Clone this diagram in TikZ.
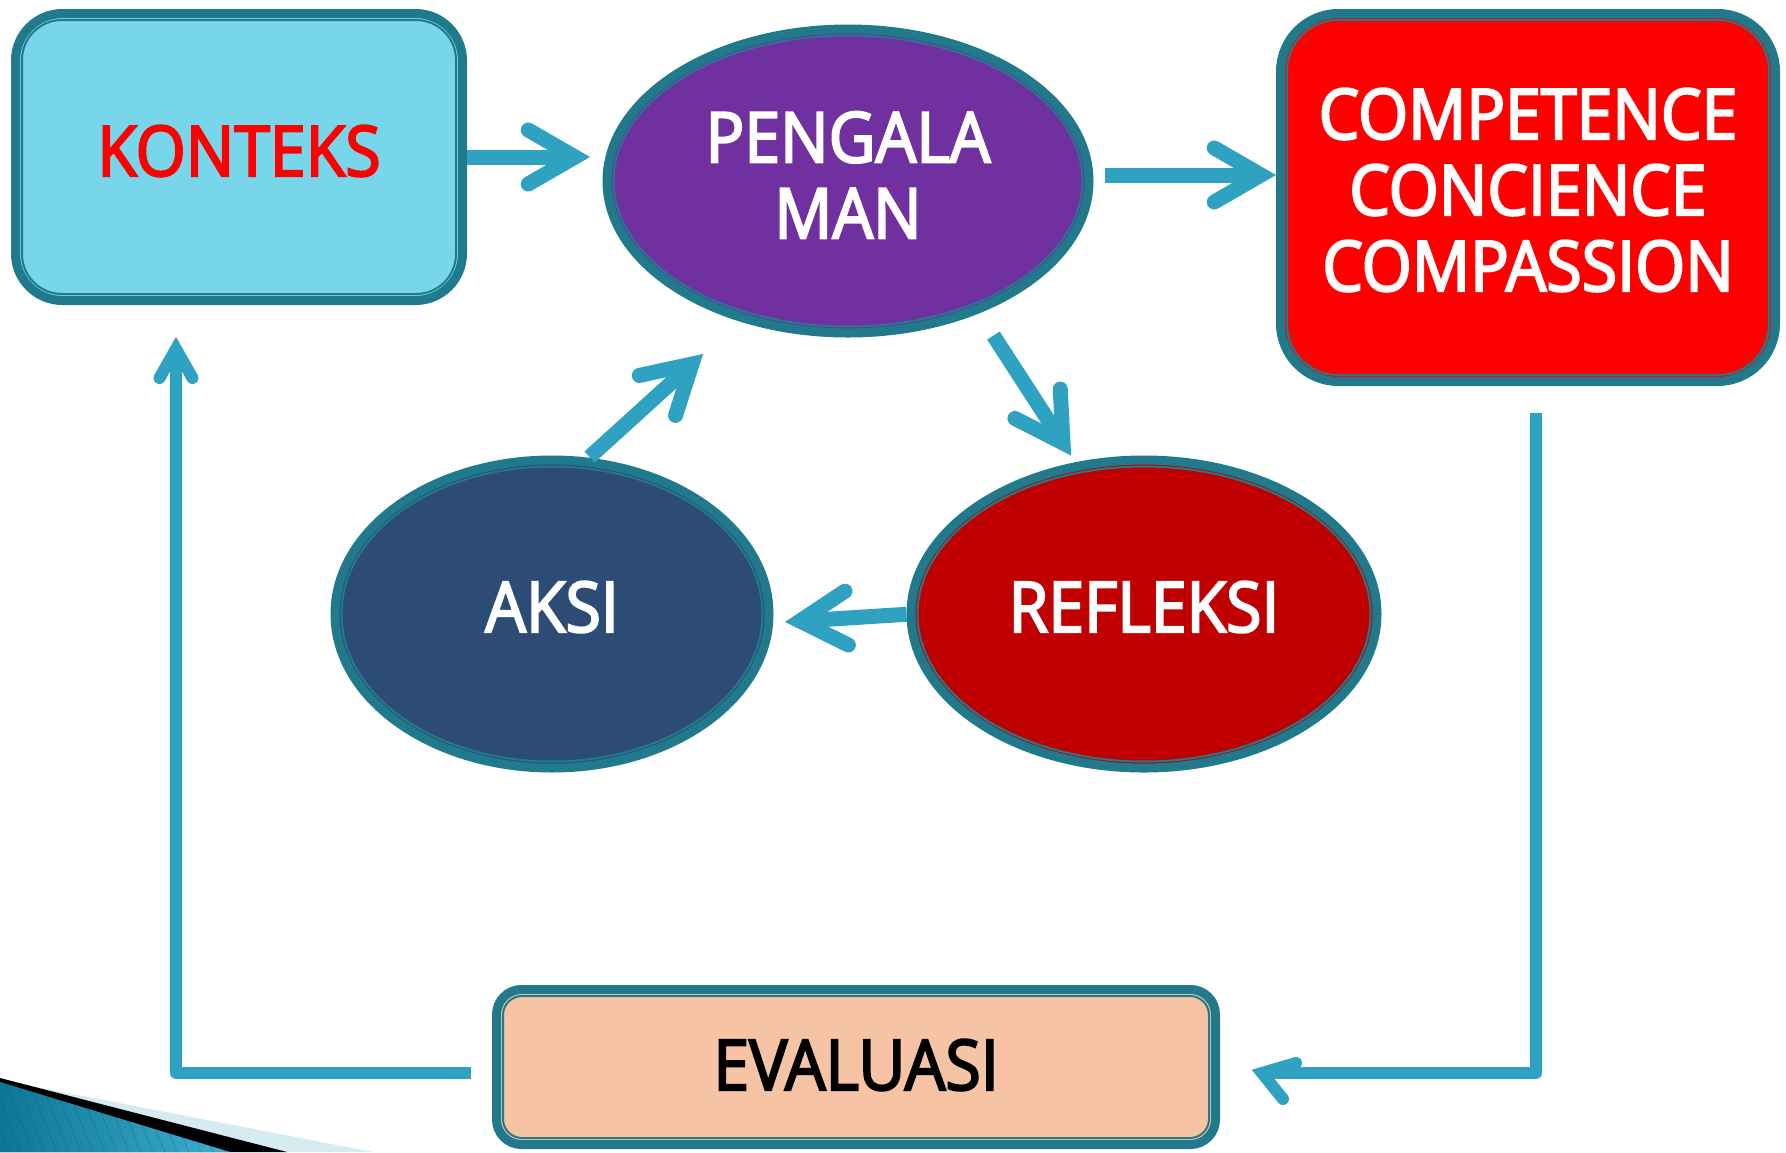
\documentclass[tikz,border=0pt]{standalone}
\usepackage{fontspec}
\setmainfont{Open Sans}[FakeStretch=0.92, FakeBold=3]
\usetikzlibrary{calc,shapes.geometric}
\definecolor{bord}{RGB}{32,122,140}
\definecolor{arr}{RGB}{46,162,192}
\definecolor{konfill}{RGB}{119,214,233}
\definecolor{pengfill}{RGB}{112,48,160}
\definecolor{compfill}{RGB}{255,0,0}
\definecolor{aksifill}{RGB}{44,76,117}
\definecolor{reffill}{RGB}{192,0,0}
\definecolor{evalfill}{RGB}{246,195,165}
\definecolor{decoA}{RGB}{12,118,150}
\definecolor{decoB}{RGB}{64,174,208}
\definecolor{decoL}{RGB}{214,234,242}
\newcommand\chevhead[3][54pt]{\draw[chev] ($(#3)!#1!30:(#2)$) -- (#3) -- ($(#3)!#1!-30:(#2)$);}
\begin{document}
\begin{tikzpicture}[x=1pt,y=-1pt,
  base/.style={draw=bord, line width=9pt, inner sep=0pt, outer sep=0pt},
  rbox/.style={base, rectangle},
  oval/.style={base, ellipse},
  innerline/.style={draw=bord, line width=2pt},
  lbl/.style={inner sep=0pt, align=center, text=white, font=\fontsize{70}{76}\selectfont},
  conn/.style={draw=arr, line width=15pt},
  chev/.style={draw=arr, line width=15pt, line cap=round, line join=miter},
  loopline/.style={draw=arr, line width=12pt, line join=round},
  loophead/.style={draw=arr, line width=12pt, line cap=round, line join=miter}
]
\useasboundingbox (0,0) rectangle (1786,1152);
\fill[white] (0,0) rectangle (1786,1152);

% corner decoration
\fill[decoL] (0,1080) -- (373,1152) -- (0,1152) -- cycle;
\fill[black] (0,1078) -- (287,1152) -- (0,1152) -- cycle;
\shade[left color=decoA, right color=decoB] (0,1082) -- (230,1152) -- (0,1152) -- cycle;
\begin{scope}
  \clip (0,1082) -- (230,1152) -- (0,1152) -- cycle;
  \foreach \i in {-60,-48,...,240} \draw[decoA!70!black, opacity=.25, line width=1pt] (\i,1070) -- ++(36,90);
\end{scope}

% shapes
\node[rbox, fill=konfill, rounded corners=47pt, minimum width=447pt, minimum height=287pt] (K) at (239,157) {};
\node[oval, fill=pengfill, minimum width=482pt, minimum height=304pt] (P) at (848,181) {};
\node[rbox, fill=compfill, rounded corners=58pt, minimum width=495pt, minimum height=368pt] (C) at (1528,197.5) {};
\node[oval, fill=aksifill, minimum width=434pt, minimum height=308pt] (A) at (552,614) {};
\node[oval, fill=reffill, minimum width=466pt, minimum height=308pt] (R) at (1144,614) {};
\node[rbox, fill=evalfill, rounded corners=25pt, minimum width=719pt, minimum height=155pt] (E) at (856,1067) {};

% inner thin lines
\draw[innerline, rounded corners=40pt] ($(K.north west)+(6.5,6.5)$) rectangle ($(K.south east)+(-6.5,-6.5)$);
\draw[innerline, rounded corners=51pt] ($(C.north west)+(6.5,6.5)$) rectangle ($(C.south east)+(-6.5,-6.5)$);
\draw[innerline, rounded corners=19pt] ($(E.north west)+(6.5,6.5)$) rectangle ($(E.south east)+(-6.5,-6.5)$);
\draw[innerline] (P.center) ellipse [x radius=234.5pt, y radius=145.5pt];
\draw[innerline] (A.center) ellipse [x radius=210.5pt, y radius=147.5pt];
\draw[innerline] (R.center) ellipse [x radius=226.5pt, y radius=147.5pt];

% texts
\node[lbl, text=red] (Kt) at ($(K.center)+(0,-6)$) {KONTEKS};
\node[lbl] (Pt) at ($(P.center)+(0,-6)$) {PENGALA\\MAN};
\node[lbl] (Ct) at ($(C.center)+(0,-7.5)$) {COMPETENCE\\CONCIENCE\\COMPASSION};
\node[lbl] (At) at ($(A.center)+(0,-7)$) {AKSI};
\node[lbl] (Rt) at ($(R.center)+(0,-7)$) {REFLEKSI};
\node[lbl, text=black] (Et) at ($(E.center)+(0,-2)$) {EVALUASI};

% connectors
\coordinate (tKP) at (575,157);
\draw[conn, shorten <=4.5pt] (K.east) -- (tKP);
\chevhead{K.east}{tKP}

\coordinate (tPC) at (1261,175);
\coordinate (sPC) at (P.east |- tPC);
\draw[conn, shorten <=16pt] (sPC) -- (tPC);
\chevhead{sPC}{tPC}

\coordinate (tAP) at (692,364);
\draw[conn, shorten <=7pt] (A.78) -- (tAP);
\chevhead{A.78}{tAP}

\coordinate (tPR) at (1063,443);
\draw[conn, shorten <=31pt] (P.-45) -- (tPR);
\chevhead{P.-45}{tPR}

\coordinate (tRA) at (800,621);
\draw[conn, shorten <=4.5pt] (R.west) -- (tRA);
\chevhead{R.west}{tRA}

% loops
\coordinate (tUp) at (176,349);
\draw[loopline] ($(E.west)+(-26,6)$) -| (tUp);
\draw[loophead] ($(tUp)+(-16.5,29)$) -- (tUp) -- ($(tUp)+(16.5,29)$);

\coordinate (tEv) at (1262,1073);
\draw[loopline] ($(C.south)+(8,31.5)$) |- (tEv);
\draw[loophead] ($(tEv)+(34,-10)$) -- (tEv) -- ($(tEv)+(21,26)$);
\end{tikzpicture}
\end{document}
